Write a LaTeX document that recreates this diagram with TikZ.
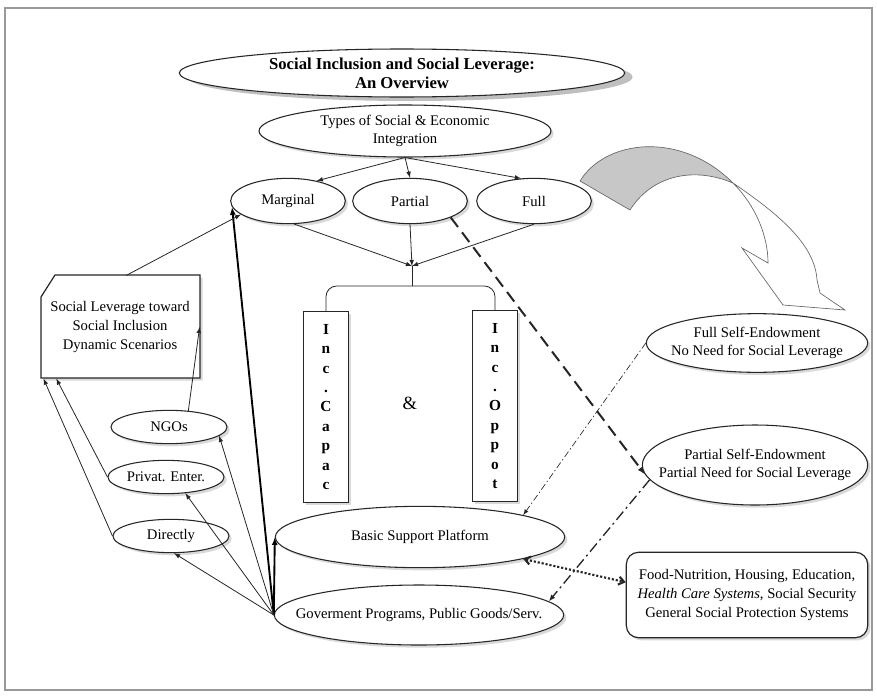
\documentclass[tikz,border=0pt]{standalone}
\usepackage{fontspec}
\setmainfont{Liberation Serif}
\usetikzlibrary{shapes.geometric,shadows,arrows.meta}

\tikzset{
  shd/.style={drop shadow={shadow xshift=2pt, shadow yshift=-2pt, opacity=0.3}},
  plainoval/.style={ellipse, draw=black!85, line width=0.8pt, fill=white,
    align=center, inner xsep=0pt, inner ysep=0pt},
  oval/.style={plainoval, shd},
  incbox/.style={rectangle, draw=black!85, line width=1pt, fill=white, align=center,
    minimum width=34pt, minimum height=143pt, inner ysep=2pt,
    font=\bfseries\fontsize{11.5}{14.6}\selectfont, shd},
  arr/.style={-latex, black!85, line width=0.6pt},
  heavy/.style={-{Latex[length=6pt,width=4.5pt]}, black, line width=1.4pt},
}

\begin{document}
\begin{tikzpicture}[x=0.75pt, y=-0.75pt, font=\fontsize{11}{13.5}\selectfont]

\colorlet{cLine}{black!85}
\colorlet{cRibbon}{black!22}

\useasboundingbox (0,0) rectangle (877,696);
\draw[black!40, line width=0.9pt] (5,8) rectangle (872,690);

%% ---------- overview and the three kinds of integration ----------
\node[plainoval, font=\bfseries\fontsize{12.5}{14.5}\selectfont,
  minimum width=334pt, minimum height=36pt,
  drop shadow={shadow xshift=6pt, shadow yshift=-3pt, opacity=0.5}]
  (title) at (402,73) {Social Inclusion and Social Leverage:\\An Overview};
\node[oval, minimum width=219pt, minimum height=39pt] (types) at (405,131)
  {Types of Social \& Economic\\Integration};

\foreach \nm/\x/\txt in {marg/288/Marginal, part/410/Partial, full/534/Full}
  \node[oval, minimum width=86pt, minimum height=34pt] (\nm) at (\x,201) {\txt};

\coordinate (split) at (types.south);
\draw[arr] (split) -- (marg.35);
\draw[arr] (split) -- (part.north);
\draw[arr] (split) -- (full.120);

\coordinate (join) at (412,266);
\draw[arr] (marg.-75) -- (join);
\draw[arr] (part.south) -- (join);
\draw[arr] (full.south) -- (join);

%% ---------- capacities & opportunities ----------
\node[incbox] (capac) at (326,407) {I\\n\\c\\.\\C\\a\\p\\a\\c};
\node[incbox] (oppot) at (495,406) {I\\n\\c\\.\\O\\p\\p\\o\\t};
\node[font=\fontsize{14}{16}\selectfont] (amp) at (410,403) {\&};

\coordinate (brace) at (412,286);
\draw[cLine, line width=0.6pt] (join) -- (brace);
\draw[cLine, line width=0.6pt, rounded corners=8pt]
  (capac.north) |- (brace) -| (oppot.north);

%% ---------- support platform and programs ----------
\node[oval, minimum width=217pt, minimum height=46pt] (bsp) at (420,537)
  {Basic Support Platform};
\node[oval, inner xsep=-16pt, minimum width=217pt, minimum height=45pt]
  (gov) at (419,615) {Goverment Programs, Public Goods/Serv.};

%% ---------- left: leverage scenarios ----------
\filldraw[fill=white, draw=cLine, line width=0.9pt, shd]
  (41,297) -- (55,275) -- (200,275) -- (200,378) -- (41,378) -- cycle;
\node[align=center, minimum width=119pt, minimum height=77pt, inner sep=0pt,
  font=\fontsize{11}{14.5}\selectfont] (lev) at (120,327)
  {Social Leverage toward\\Social Inclusion\\Dynamic Scenarios};

\foreach \nm/\x/\y/\txt in {ngo/169/427/NGOs, priv/166/477/Privat. Enter., dir/171/536/Directly}
  \node[oval, minimum width=87pt, minimum height=25pt] (\nm) at (\x,\y) {\txt};

\coordinate (hub) at (gov.west);
\draw[heavy] (hub) -- (bsp.west);
\draw[heavy] (hub) -- (marg.186);
\foreach \t in {dir.-80, priv.-40, ngo.-10}
  \draw[arr] (hub) -- (\t);

\draw[arr] (ngo.40) -- (lev.east);
\draw[arr] (priv.west) -- (lev.-141);
\draw[arr] (dir.west) -- (lev.-146);
\draw[arr] (lev.83) -- (marg.196);

%% ---------- right: self-endowment ----------
\node[oval, inner xsep=-6pt, minimum width=166pt, minimum height=44pt]
  (fse) at (757,343) {Full Self-Endowment\\No Need for Social Leverage};
\node[oval, inner xsep=-19pt, minimum width=169pt, minimum height=60pt]
  (pse) at (755,465) {Partial Self-Endowment\\Partial Need for Social Leverage};
\node[rectangle, rounded corners=9pt, draw=cLine, line width=0.9pt, fill=white,
  align=center, minimum width=181pt, minimum height=64pt, inner sep=0pt,
  font=\fontsize{11}{14}\selectfont, shd] (food) at (747,595)
  {Food-Nutrition, Housing, Education,\\\textit{Health Care Systems}, Social Security\\General Social Protection Systems};

\draw[-{Latex[length=6pt,width=4.5pt]}, cLine, line width=1.5pt, dash pattern=on 9pt off 5pt]
  (part.-22) -- (pse.185);
\draw[-latex, cLine, line width=0.5pt, dash pattern=on 5pt off 2pt on 1pt off 2pt]
  (fse.west) -- (bsp.12);
\draw[-{Latex[length=5pt,width=4pt]}, cLine, line width=1pt, dash pattern=on 8pt off 3pt on 1.5pt off 3pt]
  (pse.188) -- (gov.6);
\draw[{Straight Barb[length=4pt,width=6pt]}-{Straight Barb[length=4pt,width=6pt]}, cLine, line width=1.6pt, dash pattern=on 1.6pt off 1.4pt]
  (bsp.-12) -- (food.174);

%% ---------- the curved ribbon arrow ----------
\filldraw[fill=cRibbon, draw=black!60, line width=0.5pt]
  (580,181) .. controls (605,140) and (680,130) .. (733,183)
  .. controls (690,165) and (650,178) .. (630,210) -- cycle;
\filldraw[fill=white, draw=black!60, line width=0.5pt]
  (733,183) .. controls (780,215) and (815,245) .. (817,280)
  -- (820,293) -- (845,310) -- (783,305) -- (742,248) -- (768,263)
  .. controls (768,235) and (755,205) .. (733,183);

\end{tikzpicture}
\end{document}
